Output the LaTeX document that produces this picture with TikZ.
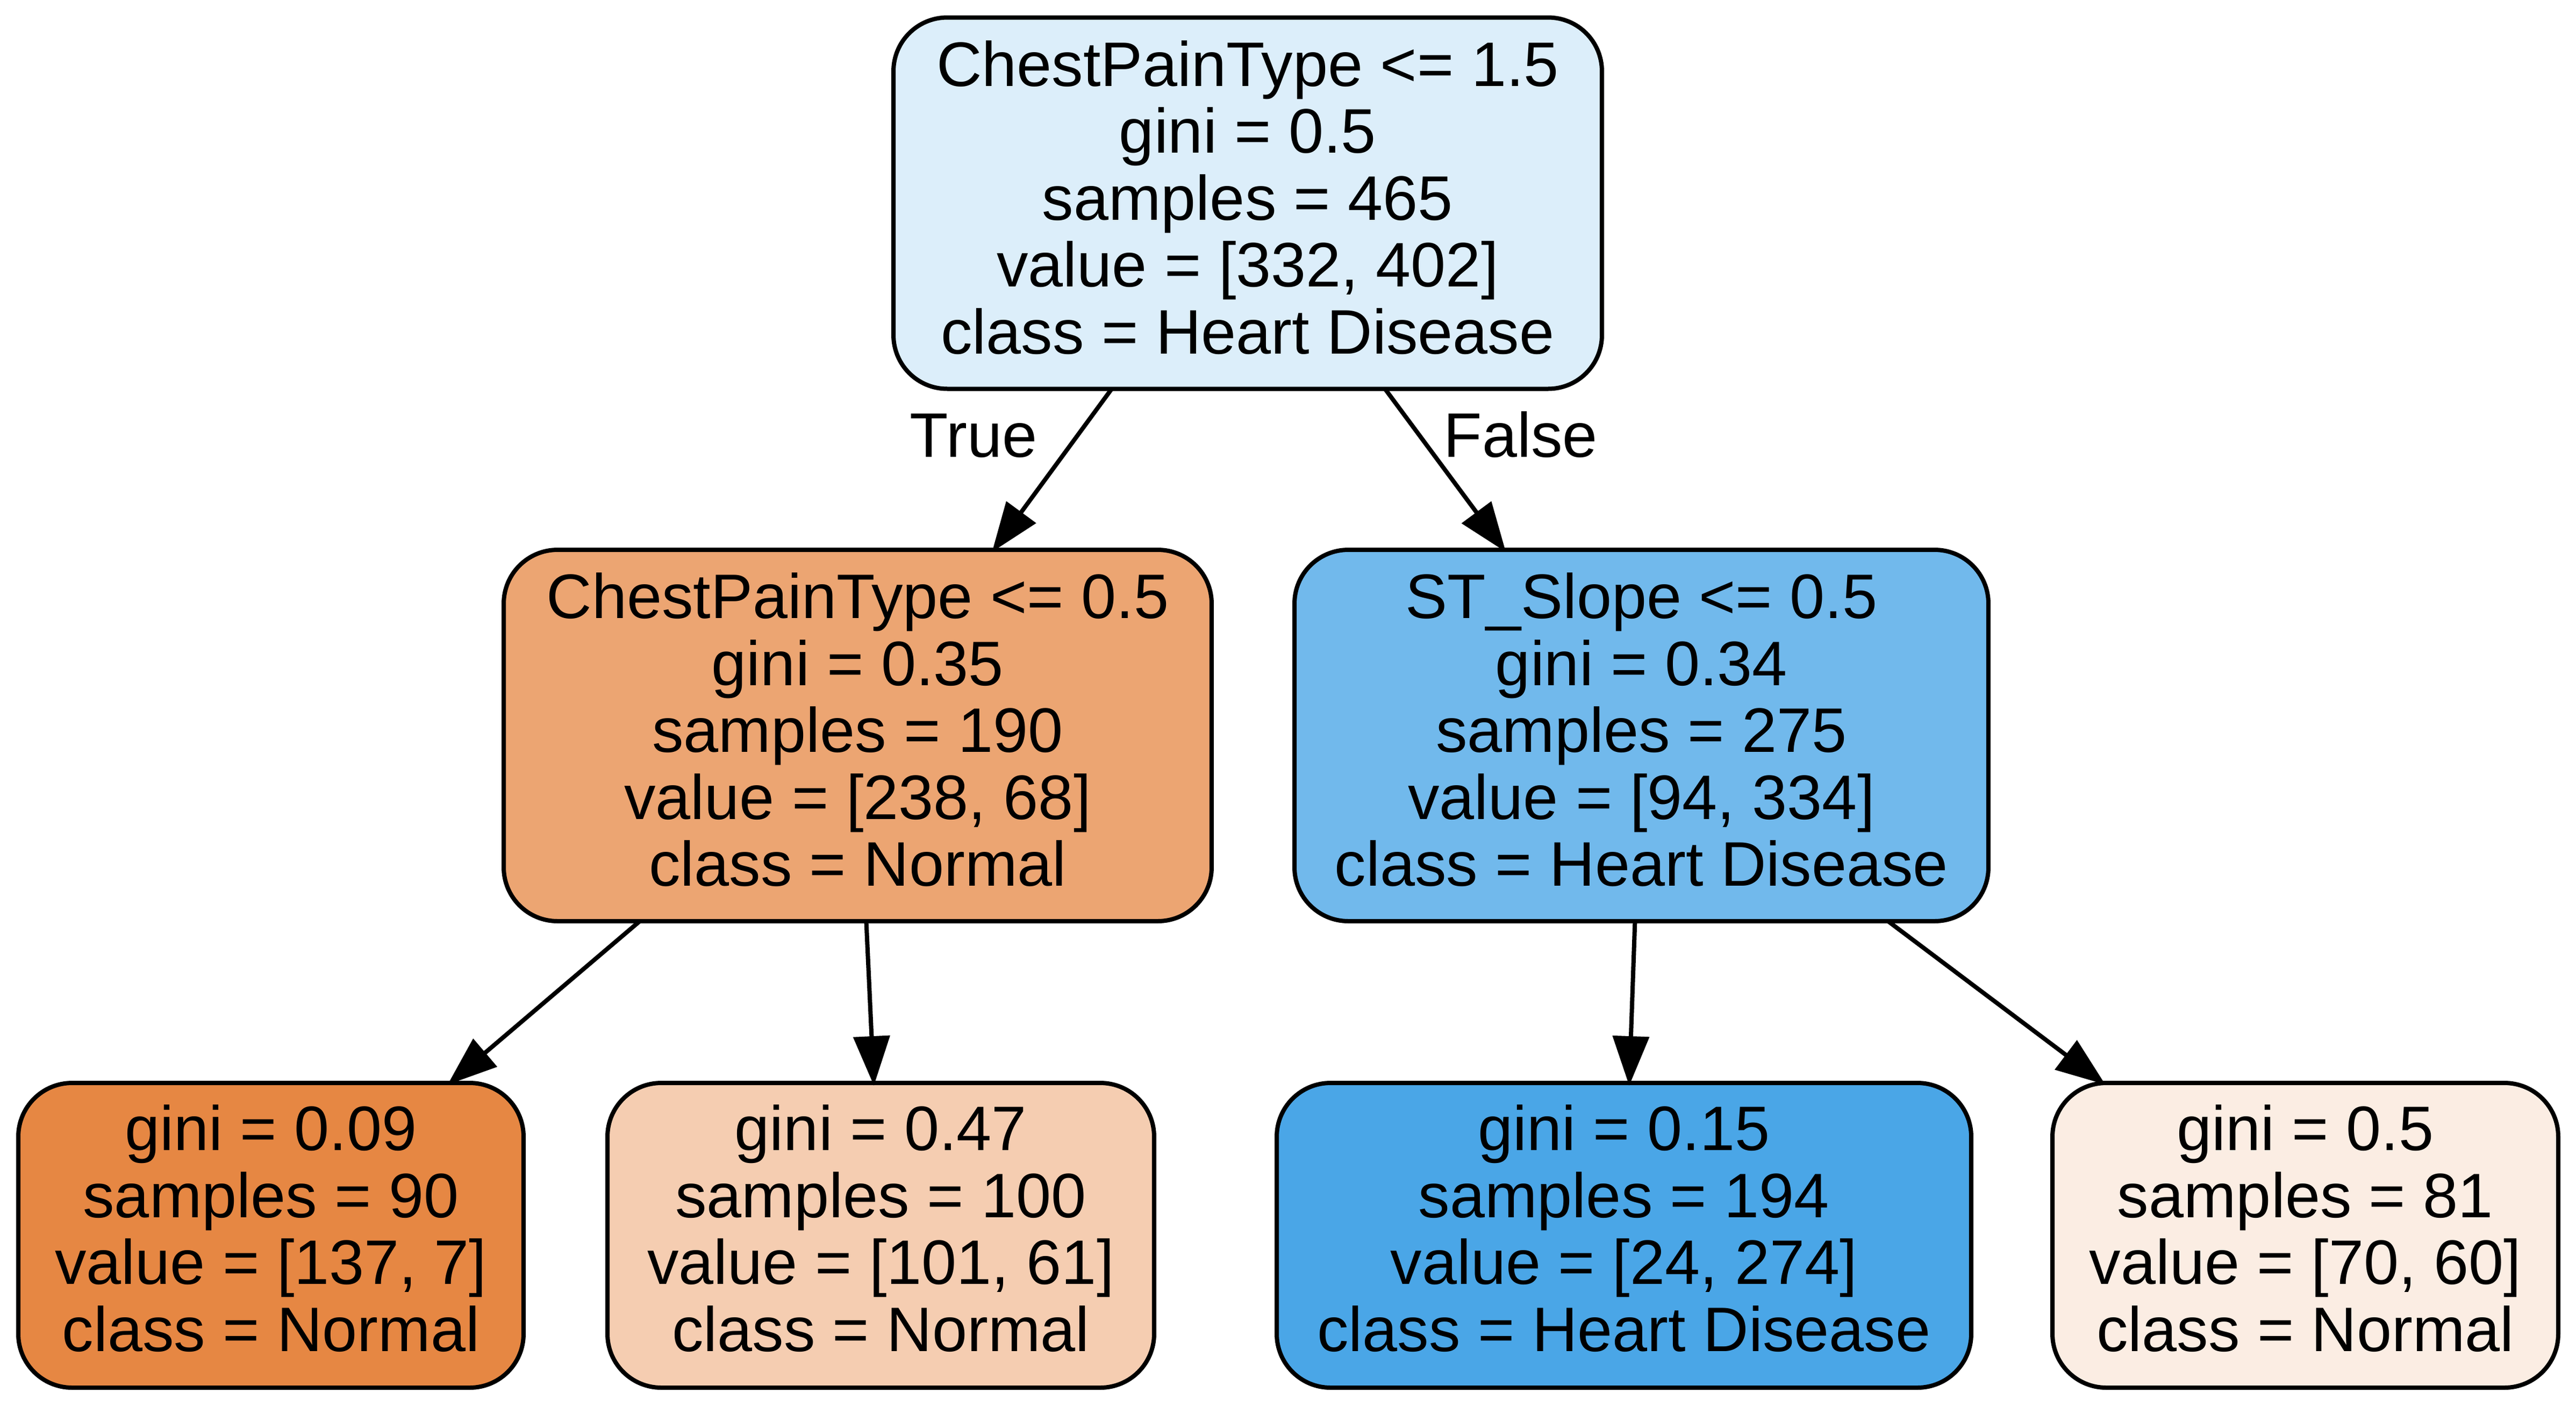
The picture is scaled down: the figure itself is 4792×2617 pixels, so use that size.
\documentclass[tikz,border=0pt]{standalone}
\usepackage{fontspec}
\setmainfont{Liberation Sans}
\usetikzlibrary{arrows.meta}
\definecolor{croot}{HTML}{DCEEFA}
\definecolor{clc}{HTML}{ECA572}
\definecolor{crc}{HTML}{71B9EC}
\definecolor{cla}{HTML}{E68743}
\definecolor{clb}{HTML}{F5CDB1}
\definecolor{clcc}{HTML}{4AA6E7}
\definecolor{cld}{HTML}{FBEDE3}
\newcommand{\intrule}{\rule{0pt}{9.94pt}}
\newcommand{\leafrule}{\rule{0pt}{9.56pt}}
\begin{document}
\begin{tikzpicture}[x=0.1pt,y=-0.1pt,
  treebox/.style={draw=black, line width=0.8pt, rounded corners=10pt, inner sep=0pt, outer sep=0pt,
    font=\fontsize{11.7pt}{12.45pt}\selectfont},
  innerbox/.style={treebox, minimum height=69.1pt},
  leafbox/.style={treebox, minimum height=56.7pt},
  edge/.style={line width=0.8pt, shorten >=-0.5pt, -{Triangle[length=9.2pt,width=6.7pt]}},
  elabel/.style={anchor=base, inner sep=0pt, font=\fontsize{11.7pt}{12.45pt}\selectfont}]
\fill[white] (0,0) rectangle (4792,2617);
\useasboundingbox (0,0) rectangle (4792,2617);

\node[innerbox, fill=croot, minimum width=131.8pt] (root) at (2321,378)
  {\begin{tabular}{@{}c@{}}\intrule ChestPainType <= 1.5\\ gini = 0.5\\ samples = 465\\ value = [332, 402]\\ class = Heart Disease\end{tabular}};

\node[innerbox, fill=clc, minimum width=131.7pt] (lc) at (1595.5,1368.5)
  {\begin{tabular}{@{}c@{}}\intrule ChestPainType <= 0.5\\ gini = 0.35\\ samples = 190\\ value = [238, 68]\\ class = Normal\end{tabular}};

\node[innerbox, fill=crc, minimum width=129.1pt] (rc) at (3053.5,1368.5)
  {\begin{tabular}{@{}c@{}}\intrule ST\_Slope <= 0.5\\ gini = 0.34\\ samples = 275\\ value = [94, 334]\\ class = Heart Disease\end{tabular}};

\node[leafbox, fill=cla, minimum width=94pt] (l1) at (504,2298.5)
  {\begin{tabular}{@{}c@{}}\leafrule gini = 0.09\\ samples = 90\\ value = [137, 7]\\ class = Normal\end{tabular}};

\node[leafbox, fill=clb, minimum width=101.7pt] (l2) at (1638.5,2298.5)
  {\begin{tabular}{@{}c@{}}\leafrule gini = 0.47\\ samples = 100\\ value = [101, 61]\\ class = Normal\end{tabular}};

\node[leafbox, fill=clcc, minimum width=129.2pt] (l3) at (3021,2298.5)
  {\begin{tabular}{@{}c@{}}\leafrule gini = 0.15\\ samples = 194\\ value = [24, 274]\\ class = Heart Disease\end{tabular}};

\node[leafbox, fill=cld, minimum width=94.1pt] (l4) at (4288.5,2298.5)
  {\begin{tabular}{@{}c@{}}\leafrule gini = 0.5\\ samples = 81\\ value = [70, 60]\\ class = Normal\end{tabular}};

\draw[edge] (root) -- (lc);
\draw[edge] (root) -- (rc);
\draw[edge] (lc) -- (l1);
\draw[edge] (lc) -- (l2);
\draw[edge] (rc) -- (l3);
\draw[edge] (rc) -- (l4);

\node[elabel] (truelbl) at (1811,850) {True};
\node[elabel] (falselbl) at (2829,850) {False};
\end{tikzpicture}
\end{document}
